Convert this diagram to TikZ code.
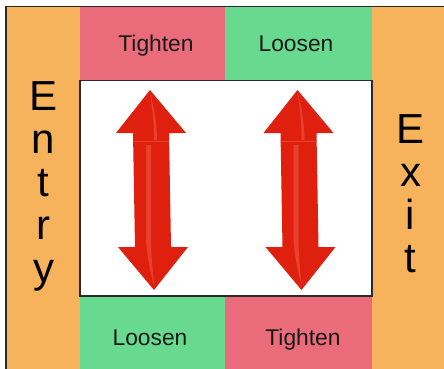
\documentclass[tikz,border=0pt]{standalone}
\usepackage{fontspec}
\setmainfont{Liberation Sans}
\definecolor{orangeC}{HTML}{F6B35C}
\definecolor{redC}{HTML}{EA6B7A}
\definecolor{greenC}{HTML}{68DA90}
\definecolor{frameC}{HTML}{2A2A2A}
\definecolor{arrowC}{HTML}{DF200E}
\definecolor{shineC}{HTML}{E8402C}
\tikzset{
  label/.style={text=black!90,font=\fontsize{22.8}{26}\selectfont,inner sep=0pt,anchor=base},
  bigword/.style={text=black,align=center,inner sep=0pt,anchor=north,font=\fontsize{42}{43}\selectfont},
  arrowbody/.style={fill=arrowC,draw=none},
  arrowshine/.style={fill=shineC,draw=none}
}
\newcommand{\dblarrow}[2]{%
  \begin{scope}[shift={(#1,#2)}]
    \fill[arrowbody] (150,90) -- (186,133) -- (169,133) -- (171,247) -- (188,247) -- (154,290) -- (118,247) -- (135,247) -- (133,133) -- (116,133) -- cycle;
    \draw[shineC,line width=0.7pt] (133,141) -- (169,141);
    \fill[arrowshine] (146,145) -- (151,145) -- (151,240) .. controls (151,255) and (153,272) .. (154,285) .. controls (150,272) and (146,250) .. (146,235) -- cycle;
    \fill[arrowshine] (150,92) .. controls (153,105) and (157,120) .. (157,140) -- (154,140) .. controls (154,122) and (152,105) .. (150,92) -- cycle;
  \end{scope}}
\begin{document}
\begin{tikzpicture}[x=1pt,y=-1pt]
  \useasboundingbox (0,0) rectangle (444,369);
  \fill[white] (0,0) rectangle (444,369);
  \fill[orangeC] (6,7) rectangle (79.5,369);
  \fill[orangeC] (372,7) rectangle (444,369);
  \fill[redC] (79.5,7) rectangle (225,80);
  \fill[greenC] (225,7) rectangle (372,80);
  \fill[greenC] (79.5,296) rectangle (225,369);
  \fill[redC] (225,296) rectangle (372,369);
  \draw[frameC,line width=1.6pt] (6,369) -- (6,6.5) -- (444,6.5);
  \draw[frameC,line width=1.8pt,fill=white] (80,80.5) rectangle (372,296);
  \dblarrow{0}{0}
  \dblarrow{147.5}{0}
  \node[label] (t1) at (156,52) {Tighten};
  \node[label] (l1) at (296,52) {Loosen};
  \node[label] (l2) at (150,345) {Loosen};
  \node[label] (t2) at (303,345) {Tighten};
  \node[bigword] (entry) at (43.5,81) {E\\n\\t\\r\\y};
  \node[bigword] (exit) at (410.5,114) {E\\x\\i\\t};
\end{tikzpicture}
\end{document}
